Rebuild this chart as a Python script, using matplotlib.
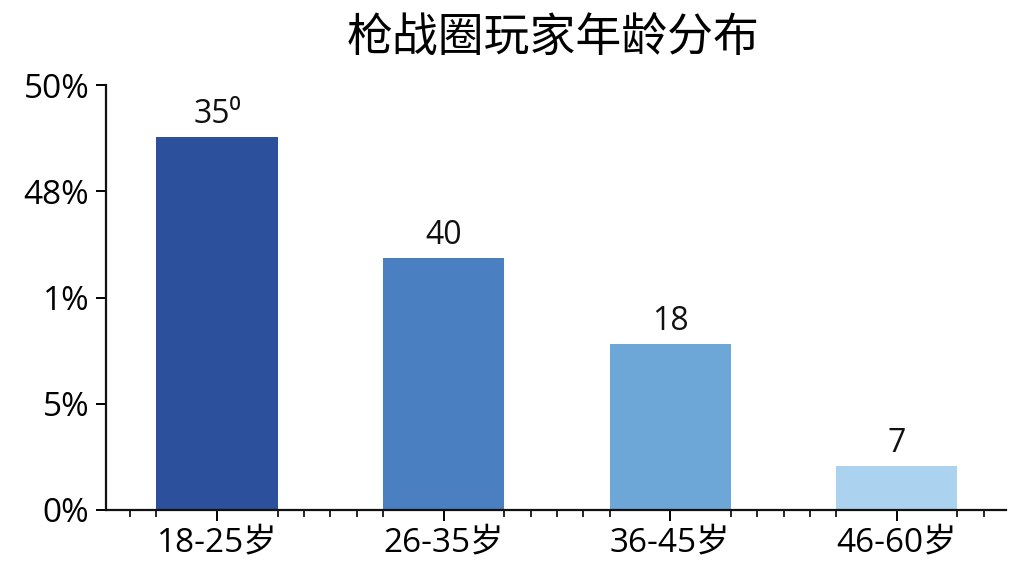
import numpy as np
import matplotlib
matplotlib.use("Agg")
import matplotlib.pyplot as plt

plt.rcParams['font.family'] = ['Open Sans', 'Noto Sans CJK SC', 'DejaVu Sans']

# data (heights in axis units, labels as printed)
groups = ['18-25岁', '26-35岁', '36-45岁', '46-60岁']
heights = [43.9, 29.6, 19.5, 5.2]
bar_labels = ['35⁰', '40', '18', '7']
ytick_vals = [0, 12.5, 25, 37.5, 50]
ytick_labels = ['0%', '5%', '1%', '48%', '50%']
colors = ['#2C509B', '#4A7FC2', '#6DA7D7', '#ABD2EE']

fig = plt.figure(figsize=(10.24, 5.76), dpi=100)
ax = fig.add_axes([0.1035, 0.1146, 0.8785, 0.7378])

x = np.arange(len(groups))
w = 0.535
ax.bar(x, heights, width=w, color=colors)

for xi, h, lab in zip(x, heights, bar_labels):
    ax.text(xi, h + 0.7, lab, ha='center', va='bottom', fontsize=23, color='#111111')

ax.set_xlim(-0.49, 3.48)
ax.set_ylim(0, 50)
ax.set_yticks(ytick_vals)
ax.set_yticklabels(ytick_labels, fontsize=24)
ax.set_xticks(x)
ax.set_xticklabels(groups, fontsize=24)

# minor ticks at bar edges and quartering the gaps
minor = [-0.5 + (0.5 - w / 2) / 2]
for i in range(len(groups)):
    l, r = i - w / 2, i + w / 2
    minor += [l, r]
    if i < len(groups) - 1:
        gap = 1 - w
        minor += [r + gap * k / 4 for k in (1, 2, 3)]
minor.append(3 + w / 2 + (0.5 - w / 2) / 2)
ax.set_xticks(minor, minor=True)

for s in ['top', 'right']:
    ax.spines[s].set_visible(False)
for s in ['left', 'bottom']:
    ax.spines[s].set_linewidth(1.6)
    ax.spines[s].set_color('#111111')

ax.tick_params(axis='y', direction='out', length=7, width=1.4, pad=5)
ax.tick_params(axis='x', which='major', direction='out', length=8, width=1.4, pad=4)
ax.tick_params(axis='x', which='minor', direction='out', length=5, width=1.2)

fig.text(0.54, 0.93, '枪战圈玩家年龄分布', ha='center', va='center', fontsize=33)

fig.savefig('out.png', dpi=100)
